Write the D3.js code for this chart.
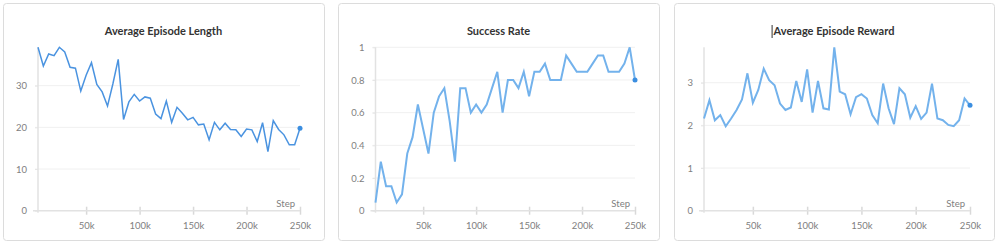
<!DOCTYPE html>
<html>
<head>
<meta charset="utf-8">
<script src="https://cdn.jsdelivr.net/npm/d3@7"></script>
<style>
  html, body { margin: 0; padding: 0; background: #ffffff; }
  svg { display: block; font-family: Lato, "Noto Sans", sans-serif; }
</style>
</head>
<body>
<svg id="chart" width="1000" height="246"></svg>
<script>
// ---- data ----
const steps = [5000,10000,15000,20000,25000,30000,35000,40000,45000,50000,
  55000,60000,65000,70000,75000,80000,85000,90000,95000,100000,
  105000,110000,115000,120000,125000,130000,135000,140000,145000,150000,
  155000,160000,165000,170000,175000,180000,185000,190000,195000,200000,
  205000,210000,215000,220000,225000,230000,235000,240000,245000,250000];

const episodeLength = [39.2,34.7,37.6,37.2,39.2,38.1,34.4,34.2,28.7,32.5,
  35.5,30.3,28.5,25.1,30.4,36.3,21.9,26.1,27.9,26.3,
  27.3,27.0,23.2,22.1,26.3,21.2,24.8,23.4,21.8,22.4,
  20.6,20.8,17.0,21.2,19.4,21.0,19.5,19.4,17.8,19.6,
  19.4,16.6,21.1,14.2,21.6,19.5,18.2,15.8,15.8,19.8];

const successRate = [0.05,0.30,0.15,0.15,0.05,0.10,0.35,0.45,0.65,0.50,
  0.35,0.60,0.70,0.75,0.55,0.30,0.75,0.75,0.60,0.65,
  0.60,0.65,0.75,0.85,0.60,0.80,0.80,0.75,0.85,0.70,
  0.85,0.85,0.90,0.80,0.80,0.80,0.95,0.90,0.85,0.85,
  0.85,0.90,0.95,0.95,0.85,0.85,0.85,0.90,1.00,0.80];

const episodeReward = [2.16,2.59,2.12,2.24,1.98,2.16,2.36,2.61,3.22,2.53,
  2.83,3.33,3.06,2.94,2.51,2.36,2.42,3.04,2.55,3.31,
  2.30,3.04,2.40,2.37,3.83,2.79,2.73,2.26,2.66,2.73,
  2.63,2.24,2.05,2.98,2.40,2.03,2.87,2.73,2.18,2.45,
  2.15,2.30,2.98,2.16,2.12,2.01,1.98,2.12,2.63,2.47];

const xTicks = [50000,100000,150000,200000,250000];
const xTickLabels = ["50k","100k","150k","200k","250k"];
const lengthTicks = [0,10,20,30];
const successTicks = [0,0.2,0.4,0.6,0.8,1];
const rewardTicks = [0,1,2,3];
const titles = ["Average Episode Length","Success Rate","Average Episode Reward"];
const xAxisLabel = "Step";

// ---- layout ----
const svg = d3.select("#chart");
const panels = [
  {card:[3,324], plot:[38,300], values: episodeLength, ticks: lengthTicks, fmt: d => String(d), title: titles[0], color:"#4a93e0", width:1.5},
  {card:[338,659], plot:[375.5,635], values: successRate, ticks: successTicks, fmt: d => String(+d.toFixed(1)), title: titles[1], color:"#73b2ec", width:2},
  {card:[674,994], plot:[704,970], values: episodeReward, ticks: rewardTicks, fmt: d => String(d), title: titles[2], color:"#73b2ec", width:2, caret:true}
];
const plotTop = 47.3, plotBottom = 210.7;

panels.forEach(p => {
  const g = svg.append("g");
  g.append("rect")
    .attr("x", p.card[0] + 0.5).attr("y", 3.5)
    .attr("width", p.card[1] - p.card[0]).attr("height", 237)
    .attr("rx", 3)
    .attr("fill", "#fff").attr("stroke", "#dcdcdc").attr("stroke-width", 1);

  const x = d3.scaleLinear().domain([steps[0], steps[steps.length-1]]).range(p.plot);
  const y = d3.scaleLinear().domain([0, d3.max(p.values)]).range([plotBottom, plotTop]);

  // gridlines
  g.append("g").selectAll("line").data(p.ticks.filter(t => t > 0)).join("line")
    .attr("x1", p.plot[0] - 3).attr("x2", p.plot[1])
    .attr("y1", d => y(d)).attr("y2", d => y(d))
    .attr("stroke", "#f0f0f0").attr("stroke-width", 1);

  // y-axis (labels only, line drawn separately)
  const yAxis = d3.axisLeft(y).tickValues(p.ticks).tickFormat(p.fmt).tickSize(3).tickPadding(8);
  const ya = g.append("g").attr("transform", `translate(${p.plot[0]},0)`).call(yAxis);
  ya.select(".domain").remove();
  ya.selectAll(".tick line").attr("stroke", "#e6e6e6");
  ya.selectAll(".tick text").attr("fill", "#808080").style("font-size", "9.5px").style("font-family", "Lato, sans-serif");

  // y axis line
  g.append("line")
    .attr("x1", p.plot[0]).attr("x2", p.plot[0])
    .attr("y1", plotTop).attr("y2", plotBottom + 2)
    .attr("stroke", "#e2e2e2").attr("stroke-width", 1.5);

  // x-axis
  const xAxis = d3.axisBottom(x).tickValues(xTicks)
    .tickFormat((d, i) => xTickLabels[i]).tickSizeInner(4).tickSizeOuter(0).tickPadding(8);
  const xa = g.append("g").attr("transform", `translate(0,${plotBottom})`).call(xAxis);
  xa.select(".domain").remove();
  xa.selectAll(".tick line").attr("y1", -4).attr("y2", 4).attr("stroke", "#d9d9d9").attr("stroke-width", 1.5);
  xa.selectAll(".tick text").attr("fill", "#808080").style("font-size", "9.5px").style("font-family", "Lato, sans-serif");
  g.append("line")
    .attr("x1", p.plot[0] - 5).attr("x2", p.plot[1])
    .attr("y1", plotBottom).attr("y2", plotBottom)
    .attr("stroke", "#e2e2e2").attr("stroke-width", 1.5);

  g.append("text")
    .attr("x", p.plot[1] - 5).attr("y", 207)
    .attr("text-anchor", "end")
    .attr("fill", "#808080").style("font-size", "9.5px")
    .text(xAxisLabel);

  // title
  const cx = (p.card[0] + p.card[1]) / 2;
  const t = g.append("text")
    .attr("x", cx).attr("y", 34.5)
    .attr("text-anchor", "middle")
    .attr("fill", "#333").style("font-size", "11px").style("font-weight", "700")
    .text(p.title);
  if (p.caret) {
    const bb = t.node().getBBox();
    g.append("line").attr("x1", bb.x - 0.5).attr("x2", bb.x - 0.5)
      .attr("y1", 25).attr("y2", 38).attr("stroke", "#333").attr("stroke-width", 1);
  }

  // line
  const line = d3.line().x((d, i) => x(steps[i])).y(d => y(d));
  g.append("path").datum(p.values)
    .attr("d", line)
    .attr("fill", "none").attr("stroke", p.color).attr("stroke-width", p.width)
    .attr("stroke-linejoin", "miter");
  const last = p.values.length - 1;
  g.append("circle")
    .attr("cx", x(steps[last])).attr("cy", y(p.values[last])).attr("r", 2.5)
    .attr("fill", "#3b8ee0");
});
</script>
</body>
</html>
